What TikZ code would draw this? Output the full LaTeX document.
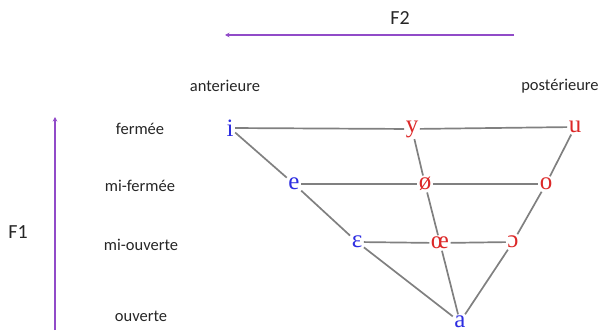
\documentclass[tikz,border=0pt]{standalone}
\usepackage{fontspec}
\setmainfont{Liberation Serif}
\newfontfamily\lblfont{Carlito}
\usetikzlibrary{arrows.meta}
\definecolor{axis}{RGB}{145,75,200}
\definecolor{front}{RGB}{45,45,225}
\definecolor{back}{RGB}{220,40,40}
\definecolor{edge}{RGB}{128,128,128}
\tikzset{
  lbl/.style={font=\lblfont\fontsize{16.5}{18}\selectfont, text=black!85},
  axlbl/.style={font=\lblfont\fontsize{20}{22}\selectfont, text=black!85},
  vowel/.style={font=\fontsize{25}{27}\selectfont, inner sep=1.5pt},
  fv/.style={vowel, text=front},
  bv/.style={vowel, text=back},
  link/.style={draw=edge, line width=1.7pt},
  axisarrow/.style={draw=axis, line width=1.4pt, -{Stealth[length=4.5pt,width=4.5pt]}},
}
\begin{document}
\begin{tikzpicture}[x=1pt,y=-1pt]
\useasboundingbox (0,0) rectangle (605,334);
% axes
\coordinate (f2s) at (514,35);
\coordinate (f2e) at (225,35);
\draw[axisarrow] (f2s) -- (f2e);
\node[axlbl] (f2) at (400,18) {F2};
\coordinate (f1s) at (55,330);
\coordinate (f1e) at (55,117);
\draw[axisarrow] (f1s) -- (f1e);
\node[axlbl] (f1) at (18,232) {F1};
% column and row labels
\node[lbl] (ant) at (225,86) {anterieure};
\node[lbl] (post) at (560,86) {postérieure};
\node[lbl] (r1) at (140,129) {fermée};
\node[lbl] (r2) at (140,186) {mi-fermée};
\node[lbl] (r3) at (141,245) {mi-ouverte};
\node[lbl] (r4) at (141,316) {ouverte};
% vowels
\node[fv] (i) at (230,128) {i};
\node[bv] (y) at (412,129) {y};
\node[bv] (u) at (575,127) {u};
\node[fv] (e) at (294,184) {e};
\node[bv] (oe) at (425,184) {ø};
\node[bv] (o) at (546,184) {o};
\node[fv] (eps) at (357,242) {ɛ};
\node[bv] (oelig) at (440,243) {œ};
\node[bv] (oo) at (513,242) {ɔ};
\node[fv] (a) at (460,322) {a};
% trapezoid
\draw[link] (i) -- (y);
\draw[link] (y) -- (u);
\draw[link] (e) -- (oe);
\draw[link] (oe) -- (o);
\draw[link] (eps) -- (oelig);
\draw[link] (oelig) -- (oo);
\draw[link] (i) -- (e);
\draw[link] (e) -- (eps);
\draw[link] (eps) -- (a);
\draw[link] (y) -- (oe);
\draw[link] (oe) -- (oelig);
\draw[link] (oelig) -- (a);
\draw[link] (u) -- (o);
\draw[link] (o) -- (oo);
\draw[link] (oo) -- (a);
\end{tikzpicture}
\end{document}
